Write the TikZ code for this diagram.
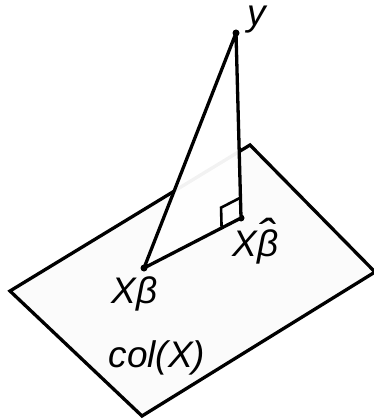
\documentclass[tikz,border=0pt]{standalone}
\usepackage{fontspec}
\setsansfont{Liberation Sans}
\usetikzlibrary{positioning,calc}
\tikzset{%
  % shapes
  plane/.style={draw, line width=3.3pt, fill=gray!3, line join=miter},
  edge/.style={line width=3.3pt, line join=round},
  rightangle/.style={line width=2.6pt},
  pt/.style={circle, fill, inner sep=0pt, minimum size=7pt},
  lbl/.style={font=\fontsize{37}{42}\selectfont\sffamily\itshape, inner sep=1pt},
}
\newcommand{\hatb}{\makebox[0pt][l]{\smash{\raisebox{0.16em}{\kern0.02em\scalebox{1.4}[1.2]{ˆ}}}}β}

\begin{document}
\begin{tikzpicture}[x=1pt, y=-1pt]
  \useasboundingbox (0,0) rectangle (373,419);

  % Column space
  \coordinate (p_l) at (10,291);
  \coordinate (p_t) at (250,145);
  \coordinate (p_r) at (375,272);
  \coordinate (p_b) at (142,416);
  \draw[plane] (p_l) -- (p_t) -- (p_r) -- (p_b) -- cycle;
  \node[lbl, anchor=base] (colx) at (157,367) {col(X)};

  % Points
  \node[pt] (y) at (236,33) {};
  \node[pt] (xb) at (144,268) {};
  \node[pt] (xbh) at (241,218) {};

  % Triangle (plane edge shows faintly through it)
  \fill[white, opacity=0.95] (y.center) -- (xb.center) -- (xbh.center) -- cycle;
  \draw[edge] (y.center) -- (xb.center) -- (xbh.center) -- cycle;

  % Right angle
  \coordinate (ra_b) at ($(xbh)!0.2!(xb)$);
  \coordinate (ra_u) at ($(xbh)!0.11!(y)$);
  \coordinate (ra_c) at ($(ra_b)+(ra_u)-(xbh)$);
  \draw[rightangle] (ra_b) -- (ra_c) -- (ra_u);

  % Labels
  \node[lbl, text height=0.52em, text depth=0.22em,
        above right=4.5pt and 7.5pt of y, anchor=base west] (ylab) {y};
  \node[lbl, below=31.5pt of xb, anchor=base, xshift=-9.5pt] (xblab) {Xβ};
  \node[lbl, below right=35.5pt and -12.5pt of xbh, anchor=base west] (xbhlab) {X\hatb};
\end{tikzpicture}
\end{document}
